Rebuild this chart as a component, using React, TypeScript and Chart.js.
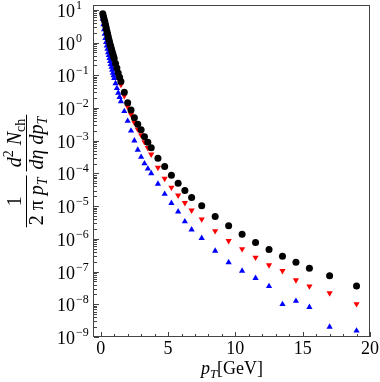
import React, { useEffect, useRef } from "react";
import { Chart, registerables } from "chart.js";
Chart.register(...registerables);

const pT = [
  0.15, 0.2, 0.25, 0.3, 0.35, 0.4, 0.45, 0.5, 0.55, 0.6, 0.65, 0.7, 0.75, 0.8, 0.85, 0.9, 0.95, 1.0,
  1.1, 1.2, 1.3, 1.4,
  1.5, 1.75, 2.0, 2.25, 2.5, 2.75, 3.0, 3.25, 3.5, 3.75,
  4.25, 4.75, 5.25, 5.75, 6.25, 6.75,
  7.5, 8.5, 9.5, 10.5, 11.5, 12.5, 13.5, 14.5, 15.5,
  17, 19,
];

const blackVals = [
  7.59, 6.31, 5.25, 4.37, 3.55, 2.88, 2.34, 1.91, 1.55, 1.26, 1.05, 0.871, 0.741, 0.617, 0.525, 0.447, 0.38, 0.324,
  0.229, 0.166, 0.117, 0.0871,
  0.0646, 0.0302, 0.0145, 0.00871, 0.00501, 0.00316, 0.00214, 0.00132, 0.000891, 0.000603,
  0.000288, 0.000162, 8.71e-5, 5.01e-5, 3.02e-5, 1.82e-5,
  1.02e-5, 4.79e-6, 2.51e-6, 1.38e-6, 7.76e-7, 4.68e-7, 2.95e-7, 1.91e-7, 1.26e-7,
  7.41e-8, 3.63e-8,
];

const redVals = [
  7.24, 6.03, 5.01, 4.17, 3.39, 2.75, 2.24, 1.78, 1.45, 1.17, 0.955, 0.794, 0.676, 0.562, 0.468, 0.398, 0.339, 0.282,
  0.195, 0.138, 0.0977, 0.0708,
  0.0513, 0.0234, 0.011, 0.00631, 0.00355, 0.00224, 0.00148, 0.000912, 0.000603, 0.00038,
  0.000151, 6.92e-5, 3.72e-5, 2.14e-5, 1.26e-5, 7.41e-6,
  3.98e-6, 1.74e-6, 8.71e-7, 4.9e-7, 2.69e-7, 1.58e-7, 1.05e-7, 5.5e-8, 3.55e-8,
  2.19e-8, 1.02e-8,
];

const blueVals = [
  5.25, 3.55, 2.51, 1.82, 1.35, 1.02, 0.794, 0.631, 0.501, 0.407, 0.331, 0.269, 0.219, 0.178, 0.145, 0.117, 0.0977, 0.0813,
  0.0562, 0.0398, 0.0288, 0.0214,
  0.0158, 0.00794, 0.00398, 0.002, 0.001, 0.000525, 0.000316, 0.0002, 0.000138, 1.0e-4,
  4.79e-5, 2.34e-5, 1.23e-5, 6.76e-6, 3.39e-6, 1.91e-6,
  1.05e-6, 4.27e-7, 1.91e-7, 1.05e-7, 6.31e-8, 3.55e-8, 1.0e-8, 1.26e-8, 8.13e-9,
  2.04e-9, 1.55e-9,
];

const xTickValues = [0, 5, 10, 15, 20];
const xTickLabels = ["0", "5", "10", "15", "20"];
const yTickExponents = [1, 0, -1, -2, -3, -4, -5, -6, -7, -8, -9];

const FONT = '"Liberation Serif", "Times New Roman", serif';

type Run = { t: string; it?: boolean; sub?: boolean; sup?: boolean };

function runFont(r: Run, size: number) {
  const s = r.sub || r.sup ? size * 0.7 : size;
  return `${r.it ? "italic " : ""}${s}px ${FONT}`;
}
function measureRuns(ctx: CanvasRenderingContext2D, runs: Run[], size: number) {
  let w = 0;
  for (const r of runs) {
    ctx.font = runFont(r, size);
    w += ctx.measureText(r.t).width;
  }
  return w;
}
function drawRuns(ctx: CanvasRenderingContext2D, runs: Run[], x: number, y: number, size: number) {
  let cx = x;
  for (const r of runs) {
    ctx.font = runFont(r, size);
    const dy = r.sub ? size * 0.22 : r.sup ? -size * 0.4 : 0;
    ctx.fillText(r.t, cx, y + dy);
    cx += ctx.measureText(r.t).width;
  }
}

const num1: Run[] = [{ t: "1" }];
const den1: Run[] = [{ t: "2 π " }, { t: "p", it: true }, { t: "T", it: true, sub: true }];
const num2: Run[] = [{ t: "d", it: true }, { t: "2", sup: true }, { t: " N", it: true }, { t: "ch", sub: true }];
const den2: Run[] = [{ t: "d", it: true }, { t: "η", it: true }, { t: " d", it: true }, { t: "p", it: true }, { t: "T", it: true, sub: true }];
const xTitle: Run[] = [{ t: "p", it: true }, { t: "T", it: true, sub: true }, { t: "[GeV]" }];

const framePlugin = {
  id: "mmaFrame",
  afterDraw(chart: any) {
    const ctx: CanvasRenderingContext2D = chart.ctx;
    const { left, right, top, bottom } = chart.chartArea;
    const xs = chart.scales.x;
    const ys = chart.scales.y;
    ctx.save();
    ctx.strokeStyle = "#444";
    ctx.lineWidth = 1;
    ctx.strokeRect(left - 0.5, top + 0.5, right - left, bottom - top - 1);
    ctx.beginPath();
    for (let v = 0; v <= 20; v++) {
      const px = Math.round(xs.getPixelForValue(v)) + 0.5;
      const len = v % 5 === 0 ? 5 : 3;
      ctx.moveTo(px, bottom);
      ctx.lineTo(px, bottom - len);
    }
    for (const e of yTickExponents) {
      for (let m = 1; m <= 9; m++) {
        const val = m * Math.pow(10, e);
        if (val > ys.max || val < ys.min) continue;
        const py = Math.round(ys.getPixelForValue(val)) + 0.5;
        const len = m === 1 ? 5 : 3;
        ctx.moveTo(left, py);
        ctx.lineTo(left + len, py);
      }
    }
    ctx.stroke();

    ctx.fillStyle = "#000";
    const size = 18;
    ctx.textBaseline = "alphabetic";
    ctx.textAlign = "left";
    for (const e of yTickExponents) {
      const py = ys.getPixelForValue(Math.pow(10, e));
      ctx.font = `${size}px ${FONT}`;
      const x0 = 57;
      ctx.fillText("10", x0, py + 7);
      const w = ctx.measureText("10").width;
      ctx.font = `${12}px ${FONT}`;
      const ex = e < 0 ? "\u2212" + String(-e) : String(e);
      ctx.fillText(ex, x0 + w + 1, py - 1);
    }
    ctx.textAlign = "center";
    ctx.font = `${size}px ${FONT}`;
    xTickValues.forEach((v, i) => {
      const px = xs.getPixelForValue(v);
      ctx.fillText(xTickLabels[i], px, bottom + 17);
    });
    ctx.textAlign = "left";
    const tw = measureRuns(ctx, xTitle, 18);
    drawRuns(ctx, xTitle, (left + right) / 2 - tw / 2, 374, 18);

    const fs = 20;
    const cy = (top + bottom) / 2;
    ctx.translate(26, cy);
    ctx.rotate(-Math.PI / 2);
    const wN1 = measureRuns(ctx, num1, fs);
    const wD1 = measureRuns(ctx, den1, fs);
    const wN2 = measureRuns(ctx, num2, fs);
    const wD2 = measureRuns(ctx, den2, fs);
    const w1 = Math.max(wN1, wD1) + 4;
    const w2 = Math.max(wN2, wD2) + 4;
    const gap = 4;
    const total = w1 + gap + w2;
    const s1 = -total / 2;
    const s2 = s1 + w1 + gap;
    ctx.lineWidth = 1;
    ctx.strokeStyle = "#000";
    ctx.beginPath();
    ctx.moveTo(s1, 0.5);
    ctx.lineTo(s1 + w1, 0.5);
    ctx.moveTo(s2, 0.5);
    ctx.lineTo(s2 + w2, 0.5);
    ctx.stroke();
    drawRuns(ctx, num1, s1 + (w1 - wN1) / 2, -5, fs);
    drawRuns(ctx, den1, s1 + (w1 - wD1) / 2, 17, fs);
    drawRuns(ctx, num2, s2 + (w2 - wN2) / 2, -5, fs);
    drawRuns(ctx, den2, s2 + (w2 - wD2) / 2, 17, fs);
    ctx.restore();
  },
};

export default function App() {
  const ref = useRef<HTMLCanvasElement | null>(null);
  useEffect(() => {
    if (!ref.current) return;
    const mk = (vals: number[]) => pT.map((x, i) => ({ x, y: vals[i] }));
    const chart = new Chart(ref.current, {
      type: "scatter",
      data: {
        datasets: [
          { label: "black", data: mk(blackVals), pointStyle: "circle", pointRadius: 3.5, backgroundColor: "#000", borderWidth: 0 },
          { label: "red", data: mk(redVals), pointStyle: "triangle", pointRotation: 180, pointRadius: 3.6, backgroundColor: "#ff0000", borderWidth: 0 },
          { label: "blue", data: mk(blueVals), pointStyle: "triangle", pointRadius: 3.6, backgroundColor: "#0000ff", borderWidth: 0 },
        ],
      },
      options: {
        responsive: false,
        animation: false,
        layout: { padding: { top: 5, right: 10, left: 0, bottom: 0 } },
        plugins: { legend: { display: false }, tooltip: { enabled: false } },
        scales: {
          x: {
            type: "linear",
            min: -0.5,
            max: 20,
            ticks: { display: false },
            grid: { display: false },
            border: { display: false },
            afterFit: (s: any) => { s.height = 45; },
          },
          y: {
            type: "logarithmic",
            min: 1e-9,
            max: 14,
            ticks: { display: false },
            grid: { display: false },
            border: { display: false },
            afterFit: (s: any) => { s.width = 94; },
          },
        },
      } as any,
      plugins: [framePlugin],
    });
    return () => chart.destroy();
  }, []);
  return (
    <div style={{ position: "absolute", left: 0, top: 0, width: 380, height: 382, background: "#fff" }}>
      <canvas ref={ref} width={380} height={382} />
    </div>
  );
}
